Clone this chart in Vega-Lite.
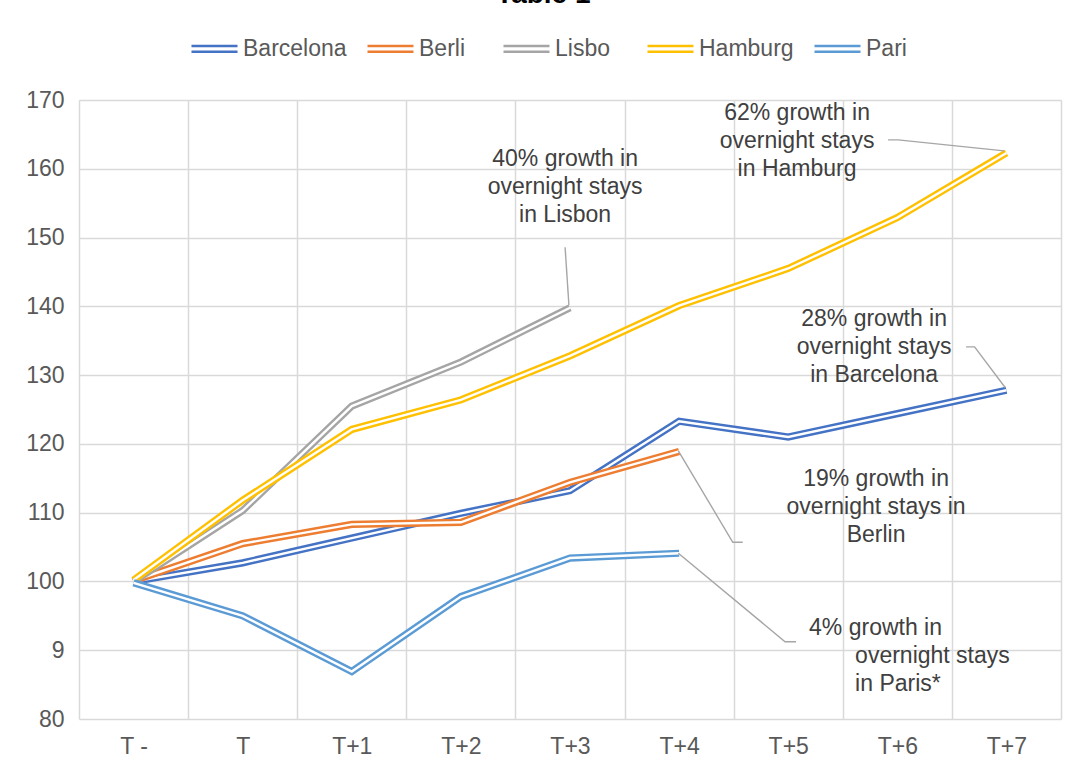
{
  "$schema": "https://vega.github.io/schema/vega-lite/v6.json",
  "width": 982,
  "height": 619,
  "autosize": {"type": "none"},
  "padding": {"left": 79, "top": 100, "right": 14, "bottom": 57},
  "background": "#ffffff",
  "config": {
    "font": "Liberation Sans",
    "view": {"stroke": null},
    "axis": {"labelFont": "Liberation Sans", "labelFontSize": 23, "labelColor": "#595959", "titleFont": "Liberation Sans"},
    "legend": {"labelFont": "Liberation Sans"}
  },
  "title": {"text": "Table 1", "fontSize": 28, "fontWeight": "bold", "color": "#000000", "anchor": "middle", "frame": "bounds", "offset": 15, "font": "Liberation Sans"},
  "datasets": {
    "series": [
      {"city": "Barcelona", "period": "T -", "value": 100.0},
      {"city": "Barcelona", "period": "T", "value": 102.7},
      {"city": "Barcelona", "period": "T+1", "value": 106.3},
      {"city": "Barcelona", "period": "T+2", "value": 109.9},
      {"city": "Barcelona", "period": "T+3", "value": 113.2},
      {"city": "Barcelona", "period": "T+4", "value": 123.3},
      {"city": "Barcelona", "period": "T+5", "value": 121.0},
      {"city": "Barcelona", "period": "T+6", "value": 124.4},
      {"city": "Barcelona", "period": "T+7", "value": 127.8},
      {"city": "Berlin", "period": "T -", "value": 100.1},
      {"city": "Berlin", "period": "T", "value": 105.5},
      {"city": "Berlin", "period": "T+1", "value": 108.3},
      {"city": "Berlin", "period": "T+2", "value": 108.6},
      {"city": "Berlin", "period": "T+3", "value": 114.4},
      {"city": "Berlin", "period": "T+4", "value": 118.9},
      {"city": "Lisbon", "period": "T -", "value": 100.0},
      {"city": "Lisbon", "period": "T", "value": 110.3},
      {"city": "Lisbon", "period": "T+1", "value": 125.5},
      {"city": "Lisbon", "period": "T+2", "value": 131.9},
      {"city": "Lisbon", "period": "T+3", "value": 139.8},
      {"city": "Hamburg", "period": "T -", "value": 100.2},
      {"city": "Hamburg", "period": "T", "value": 111.8},
      {"city": "Hamburg", "period": "T+1", "value": 122.1},
      {"city": "Hamburg", "period": "T+2", "value": 126.4},
      {"city": "Hamburg", "period": "T+3", "value": 132.8},
      {"city": "Hamburg", "period": "T+4", "value": 140.1},
      {"city": "Hamburg", "period": "T+5", "value": 145.5},
      {"city": "Hamburg", "period": "T+6", "value": 152.9},
      {"city": "Hamburg", "period": "T+7", "value": 162.3},
      {"city": "Paris", "period": "T -", "value": 99.8},
      {"city": "Paris", "period": "T", "value": 95.0},
      {"city": "Paris", "period": "T+1", "value": 86.9},
      {"city": "Paris", "period": "T+2", "value": 97.8},
      {"city": "Paris", "period": "T+3", "value": 103.4},
      {"city": "Paris", "period": "T+4", "value": 104.1}
    ],
    "leaders": [
      {"lid": "Lisbon", "ord": 0, "ax": 3.955, "ay": 148.6},
      {"lid": "Lisbon", "ord": 1, "ax": 3.99, "ay": 140.2},
      {"lid": "Hamburg", "ord": 0, "ax": 6.915, "ay": 164.2},
      {"lid": "Hamburg", "ord": 1, "ax": 7.007, "ay": 164.2},
      {"lid": "Hamburg", "ord": 2, "ax": 7.978, "ay": 162.6},
      {"lid": "Barcelona", "ord": 0, "ax": 7.63, "ay": 134.1},
      {"lid": "Barcelona", "ord": 1, "ax": 7.708, "ay": 134.1},
      {"lid": "Barcelona", "ord": 2, "ax": 7.988, "ay": 128.2},
      {"lid": "Berlin", "ord": 0, "ax": 4.993, "ay": 118.97},
      {"lid": "Berlin", "ord": 1, "ax": 5.492, "ay": 105.7},
      {"lid": "Berlin", "ord": 2, "ax": 5.583, "ay": 105.7},
      {"lid": "Paris", "ord": 0, "ax": 4.993, "ay": 104.1},
      {"lid": "Paris", "ord": 1, "ax": 5.971, "ay": 91.24},
      {"lid": "Paris", "ord": 2, "ax": 6.072, "ay": 91.24}
    ],
    "notes": [
      {"note": "40% growth in\novernight stays\nin Lisbon", "ax": 3.955, "ay": 161.42},
      {"note": "62% growth in\novernight stays\nin Hamburg", "ax": 6.081, "ay": 168.11},
      {"note": "28% growth in\novernight stays\nin Barcelona", "ax": 6.787, "ay": 138.16},
      {"note": "19% growth in\novernight stays in\nBerlin", "ax": 6.805, "ay": 114.9}
    ],
    "notesLeft": [
      {"note": "4% growth in", "ax": 6.191, "ay": 93.23},
      {"note": "overnight stays\nin Paris*", "ax": 6.613, "ay": 89.16}
    ]
  },
  "layer": [
    {
      "data": {"name": "series"},
      "layer": [
        {"transform": [{"filter": "datum.city === 'Barcelona'"}], "mark": {"type": "line", "strokeWidth": 7.2, "strokeJoin": "miter"},
         "encoding": {
           "x": {"field": "period", "type": "ordinal", "scale": {"type": "band", "domain": ["T -", "T", "T+1", "T+2", "T+3", "T+4", "T+5", "T+6", "T+7"], "paddingInner": 0, "paddingOuter": 0}, "axis": {"title": null, "tickBand": "extent", "grid": true, "gridColor": "#d9d9d9", "gridWidth": 1.5, "ticks": false, "domain": false, "labelPadding": 16, "labelAngle": 0}},
           "y": {"field": "value", "type": "quantitative", "scale": {"domain": [80, 170], "nice": false, "zero": false}, "axis": {"title": null, "values": [80, 90, 100, 110, 120, 130, 140, 150, 160, 170], "labelExpr": "datum.value === 90 ? '9' : datum.label", "grid": true, "gridColor": "#d9d9d9", "gridWidth": 1.5, "ticks": false, "domain": false, "labelPadding": 15}},
           "color": {"field": "city", "type": "nominal", "scale": {"domain": ["Barcelona", "Berlin", "Lisbon", "Hamburg", "Paris"], "range": ["#4472C4", "#ED7D31", "#A5A5A5", "#FFC000", "#5B9BD5"]},
             "legend": {"orient": "none", "legendX": 111, "legendY": -76, "direction": "horizontal", "columns": 5, "title": null, "symbolType": "M-1,-0.125H1M-1,0.125H1", "symbolSize": 2116, "symbolStrokeWidth": 2.5, "labelFontSize": 23, "labelColor": "#595959", "labelOffset": 4, "columnPadding": 15, "padding": 0,
               "labelExpr": "datum.label === 'Berlin' ? 'Berli\u2800' : datum.label === 'Lisbon' ? 'Lisbo\u2800' : datum.label === 'Paris' ? 'Pari' : datum.label"}}
         }},
        {"transform": [{"filter": "datum.city === 'Barcelona'"}], "mark": {"type": "line", "strokeWidth": 2.4, "color": "#ffffff", "strokeJoin": "miter"},
         "encoding": {"x": {"field": "period", "type": "ordinal"}, "y": {"field": "value", "type": "quantitative"}}},
        {"transform": [{"filter": "datum.city === 'Berlin'"}], "mark": {"type": "line", "strokeWidth": 7.2, "strokeJoin": "miter"},
         "encoding": {"x": {"field": "period", "type": "ordinal"}, "y": {"field": "value", "type": "quantitative"}, "color": {"field": "city", "type": "nominal"}}},
        {"transform": [{"filter": "datum.city === 'Berlin'"}], "mark": {"type": "line", "strokeWidth": 2.4, "color": "#ffffff", "strokeJoin": "miter"},
         "encoding": {"x": {"field": "period", "type": "ordinal"}, "y": {"field": "value", "type": "quantitative"}}},
        {"transform": [{"filter": "datum.city === 'Lisbon'"}], "mark": {"type": "line", "strokeWidth": 7.2, "strokeJoin": "miter"},
         "encoding": {"x": {"field": "period", "type": "ordinal"}, "y": {"field": "value", "type": "quantitative"}, "color": {"field": "city", "type": "nominal"}}},
        {"transform": [{"filter": "datum.city === 'Lisbon'"}], "mark": {"type": "line", "strokeWidth": 2.4, "color": "#ffffff", "strokeJoin": "miter"},
         "encoding": {"x": {"field": "period", "type": "ordinal"}, "y": {"field": "value", "type": "quantitative"}}},
        {"transform": [{"filter": "datum.city === 'Hamburg'"}], "mark": {"type": "line", "strokeWidth": 7.2, "strokeJoin": "miter"},
         "encoding": {"x": {"field": "period", "type": "ordinal"}, "y": {"field": "value", "type": "quantitative"}, "color": {"field": "city", "type": "nominal"}}},
        {"transform": [{"filter": "datum.city === 'Hamburg'"}], "mark": {"type": "line", "strokeWidth": 2.4, "color": "#ffffff", "strokeJoin": "miter"},
         "encoding": {"x": {"field": "period", "type": "ordinal"}, "y": {"field": "value", "type": "quantitative"}}},
        {"transform": [{"filter": "datum.city === 'Paris'"}], "mark": {"type": "line", "strokeWidth": 7.2, "strokeJoin": "miter"},
         "encoding": {"x": {"field": "period", "type": "ordinal"}, "y": {"field": "value", "type": "quantitative"}, "color": {"field": "city", "type": "nominal"}}},
        {"transform": [{"filter": "datum.city === 'Paris'"}], "mark": {"type": "line", "strokeWidth": 2.4, "color": "#ffffff", "strokeJoin": "miter"},
         "encoding": {"x": {"field": "period", "type": "ordinal"}, "y": {"field": "value", "type": "quantitative"}}}
      ]
    },
    {
      "layer": [
        {"data": {"name": "leaders"}, "mark": {"type": "line", "color": "#a6a6a6", "strokeWidth": 1.4},
         "encoding": {
           "x": {"field": "ax", "type": "quantitative", "scale": {"domain": [-0.5, 8.5], "nice": false, "zero": false}, "axis": null},
           "y": {"field": "ay", "type": "quantitative"},
           "detail": {"field": "lid"},
           "order": {"field": "ord", "type": "quantitative"}
         }},
        {"data": {"name": "notes"}, "mark": {"type": "text", "align": "center", "baseline": "middle", "fontSize": 23, "color": "#404040", "lineBreak": "\n", "lineHeight": 27.8, "font": "Liberation Sans"},
         "encoding": {
           "x": {"field": "ax", "type": "quantitative"},
           "y": {"field": "ay", "type": "quantitative"},
           "text": {"field": "note"}
         }},
        {"data": {"name": "notesLeft"}, "mark": {"type": "text", "align": "left", "baseline": "middle", "fontSize": 23, "color": "#404040", "lineBreak": "\n", "lineHeight": 27.8, "font": "Liberation Sans"},
         "encoding": {
           "x": {"field": "ax", "type": "quantitative"},
           "y": {"field": "ay", "type": "quantitative"},
           "text": {"field": "note"}
         }}
      ]
    }
  ],
  "resolve": {"scale": {"x": "independent"}}
}
